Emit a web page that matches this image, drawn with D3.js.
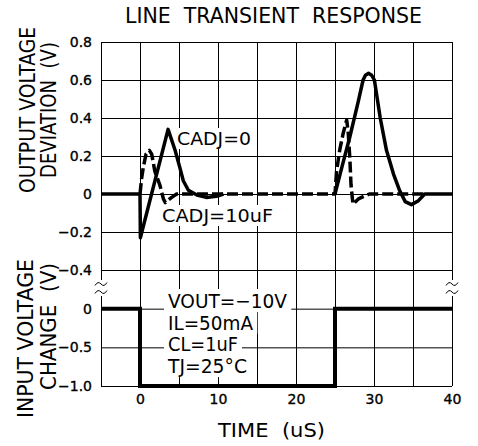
<!DOCTYPE html>
<html>
<head>
<meta charset="utf-8">
<script src="https://cdn.jsdelivr.net/npm/d3@7"></script>
<style>
body { margin: 0; background: #fff; }
svg text { font-family: "DejaVu Sans", sans-serif; fill: #000; }
</style>
</head>
<body>
<div class="chart"></div>
<script>

// tick values
const timeTicks = [0, 10, 20, 30, 40];
const gridTimes = [-5, 0, 5, 10, 15, 20, 25, 30, 35, 40];
const outTicks = [0.8, 0.6, 0.4, 0.2, 0, -0.2, -0.4];
const inTicks = [0, -0.5, -1.0];

// CADJ=0 (solid), null = hidden under the dashed trace
const cadj0Time = [-5, 0, 0.05, 3.6, 4.5, 5.1, 5.55, 6.2, 7.3, 8.5, 9.8, 10.7, 18,
	25, 26, 26.9, 28, 28.6, 28.9, 29.3, 29.7, 30.05, 30.8, 31.6, 32.5, 33.3, 34.0, 34.8, 35.7, 36.5, 40];
const cadj0Dev = [0, 0, -0.23, 0.34, 0.23, 0.14, 0.07, 0.02, -0.005, -0.018, -0.012, 0, null,
	0, 0.16, 0.30, 0.49, 0.60, 0.625, 0.635, 0.625, 0.60, 0.40, 0.23, 0.105, 0.017, -0.04, -0.056, -0.035, 0, 0];

// CADJ=10uF (dashed)
const cadj10Time = [0, 0.2, 0.42, 0.77, 1.2, 1.5, 1.9, 2.56, 3.0, 3.25, 4.06, 4.7,
	25, 25.2, 25.6, 26.05, 26.5, 26.7, 26.9, 27.05, 27.3, 28.0, 28.8, 29.4, 36.5];
const cadj10Dev = [0, 0.08, 0.14, 0.21, 0.23, 0.21, 0.12, 0.045, -0.026, -0.045, -0.018, 0,
	0, 0.12, 0.23, 0.32, 0.39, 0.32, 0.19, 0.05, -0.053, -0.026, -0.01, 0, 0];

// input step
const inputTime = [-5, 0, 0, 25, 25, 40];
const inputDelta = [0, 0, -1, -1, 0, 0];

const noteLines = ["VOUT=\u221210V", "IL=50mA", "CL=1uF", "TJ=25\u00b0C"];

var width = 478, height = 446;
var plotLeft = 101, plotRight = 452, plotTop = 42, plotBottom = 386, breakY = 270;

var x = d3.scaleLinear().domain([-5, 40]).range([plotLeft, plotRight]);
var yOut = d3.scaleLinear().domain([-0.4, 0.8]).range([breakY, plotTop]);
var yIn = d3.scaleLinear().domain([-1, 0.5]).range([plotBottom, breakY]);

var fmt = function(d) { return d === 0 ? "0" : d3.format(".1f")(d); };

var svg = d3.select(".chart")
		.append("svg")
		.attr("width", width)
		.attr("height", height);

// vertical grid + time labels
svg.append("g")
		.attr("transform", "translate(0," + plotBottom + ")")
		.call(d3.axisBottom(x).tickValues(gridTimes).tickSize(-(plotBottom - plotTop)).tickPadding(8)
			.tickFormat(function(d) { return timeTicks.indexOf(d) >= 0 ? d : ""; }));

// horizontal grid + labels, upper panel
svg.append("g")
		.attr("transform", "translate(" + plotLeft + ",0)")
		.call(d3.axisLeft(yOut).tickValues(outTicks).tickSize(-(plotRight - plotLeft)).tickPadding(9).tickFormat(fmt));

// lower panel
svg.append("g")
		.attr("transform", "translate(" + plotLeft + ",0)")
		.call(d3.axisLeft(yIn).tickValues(inTicks).tickSize(-(plotRight - plotLeft)).tickPadding(9).tickFormat(fmt));

svg.selectAll(".domain").remove();
svg.selectAll(".tick line")
		.attr("stroke", "#000")
		.attr("stroke-width", 1);
svg.selectAll(".tick text")
		.style("font-size", "14px")
		.style("stroke", "#000")
		.style("stroke-width", "0.35px");

// break marks on both borders
[plotLeft, plotRight].forEach(function(bx) {
	svg.append("rect")
		.attr("x", bx - 2).attr("y", 280)
		.attr("width", 4).attr("height", 16)
		.attr("fill", "#fff");
	[284, 292].forEach(function(by) {
		svg.append("path")
			.attr("d", "M" + (bx - 6) + "," + (by + 1.5) + " q3,-5 6,-1.5 t6,-1.5")
			.attr("fill", "none")
			.attr("stroke", "#000")
			.attr("stroke-width", 1);
	});
});

// labels with white boxes
function boxedText(tx, ty, str, size, len) {
	var g = svg.append("g");
	var t = g.append("text")
		.attr("x", tx).attr("y", ty)
		.style("font-size", size + "px")
		.attr("textLength", len)
		.attr("lengthAdjust", "spacingAndGlyphs")
		.text(str);
	var b = t.node().getBBox();
	g.insert("rect", "text")
		.attr("x", b.x - 4).attr("y", ty - size + 1)
		.attr("width", b.width + 8).attr("height", size + 3)
		.attr("fill", "#fff");
}

boxedText(177, 145, "CADJ=0", 18, 74);
boxedText(162, 222, "CADJ=10uF", 18, 111);
var noteLen = [119, 85, 70, 79];
noteLines.forEach(function(s, i) {
	boxedText(168, 308 + i * 21.7, s, 20, noteLen[i]);
});

// traces
var lineOut = d3.line()
		.defined(function(d) { return d[1] !== null; })
		.x(function(d) { return x(d[0]); })
		.y(function(d) { return yOut(d[1]); });

var lineIn = d3.line()
		.x(function(d) { return x(d[0]); })
		.y(function(d) { return yIn(d[1]); });

svg.append("path")
		.datum(cadj0Time.map(function(t, i) { return [t, cadj0Dev[i]]; }))
		.attr("d", lineOut)
		.attr("fill", "none")
		.attr("stroke", "#000")
		.attr("stroke-width", 3.5)
		.attr("stroke-linejoin", "round");

svg.append("path")
		.datum(cadj10Time.map(function(t, i) { return [t, cadj10Dev[i]]; }))
		.attr("d", lineOut)
		.attr("fill", "none")
		.attr("stroke", "#000")
		.attr("stroke-width", 3.5)
		.attr("stroke-dasharray", "11,4")
		.attr("stroke-linejoin", "round");

svg.append("path")
		.datum(inputTime.map(function(t, i) { return [t, inputDelta[i]]; }))
		.attr("d", lineIn)
		.attr("fill", "none")
		.attr("stroke", "#000")
		.attr("stroke-width", 4);

// titles
svg.append("text")
		.attr("x", 273.5).attr("y", 23)
		.attr("text-anchor", "middle")
		.style("font-size", "21px")
		.style("white-space", "pre")
		.attr("textLength", 297)
		.attr("lengthAdjust", "spacingAndGlyphs")
		.text("LINE  TRANSIENT  RESPONSE");

svg.append("text")
		.attr("x", 271.5).attr("y", 437)
		.attr("text-anchor", "middle")
		.style("font-size", "20px")
		.style("white-space", "pre")
		.attr("textLength", 107)
		.attr("lengthAdjust", "spacingAndGlyphs")
		.text("TIME  (uS)");

var yTitles = [
	{ s: "OUTPUT VOLTAGE", x: 35, y: 110, len: 166 },
	{ s: "DEVIATION  (V)", x: 56, y: 110, len: 136 },
	{ s: "INPUT VOLTAGE", x: 33, y: 338.5, len: 159 },
	{ s: "CHANGE  (V)", x: 56, y: 326.5, len: 127 }
];
yTitles.forEach(function(d) {
	svg.append("text")
		.attr("transform", "translate(" + d.x + "," + d.y + ") rotate(-90)")
		.attr("text-anchor", "middle")
		.style("font-size", "21px")
		.style("white-space", "pre")
		.attr("textLength", d.len)
		.attr("lengthAdjust", "spacingAndGlyphs")
		.text(d.s);
});

</script>
</body>
</html>
